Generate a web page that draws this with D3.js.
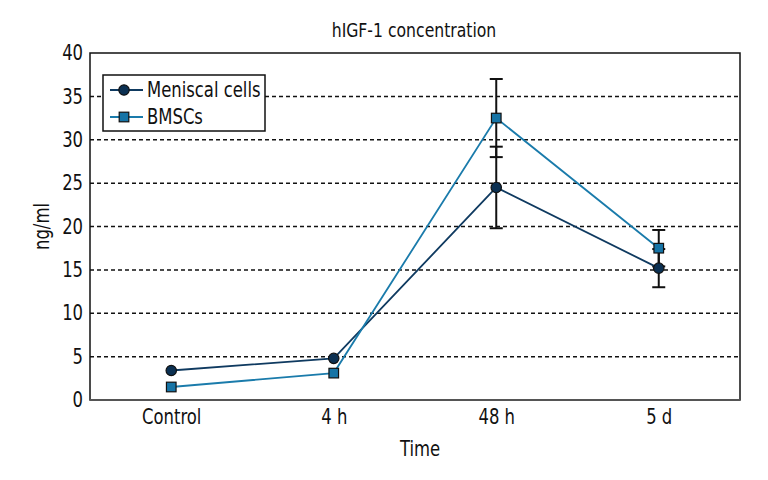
<!DOCTYPE html>
<html>
<head>
<meta charset="utf-8">
<script src="https://cdn.jsdelivr.net/npm/d3@7"></script>
<style>
	body { margin: 0; background: #fff; }
	text { font-family: 'DejaVu Sans', sans-serif; font-stretch: condensed; fill: #111; }
</style>
</head>
<body>
<svg id="svg" width="768" height="480"></svg>
<script>
const categories = ['Control', '4 h', '48 h', '5 d'];
const meniscal = [3.4, 4.8, 24.5, 15.2];
const meniscalErr = [0, 0, 4.7, 2.2];
const bmsc = [1.5, 3.1, 32.5, 17.5];
const bmscErr = [0, 0, 4.5, 2.1];
const yTicks = [0, 5, 10, 15, 20, 25, 30, 35, 40];

// squeeze text a bit more, the original font is narrower than DejaVu Condensed
const squeeze = 'scale(0.87,1)';

function draw() {
	const margin = { top: 53, right: 28, bottom: 80, left: 90 };
	const width = 768 - (margin.left + margin.right);
	const height = 480 - (margin.top + margin.bottom);

	const svg = d3.select('#svg');

	// scales
	const xscale = d3
		.scalePoint()
		.domain(categories)
		.range([margin.left, margin.left + width])
		.padding(0.5);

	const yscale = d3
		.scaleLinear()
		.domain([0, 40])
		.range([margin.top + height, margin.top]);

	// grid lines
	svg
		.append('g')
		.selectAll('line')
		.data(yTicks.filter((d) => d > 0 && d < 40))
		.enter()
		.append('line')
		.attr('x1', margin.left)
		.attr('x2', margin.left + width)
		.attr('y1', (d) => yscale(d))
		.attr('y2', (d) => yscale(d))
		.attr('stroke', '#111')
		.attr('stroke-width', 1.5)
		.attr('stroke-dasharray', '4,3');

	// frame
	svg
		.append('rect')
		.attr('x', margin.left)
		.attr('y', margin.top)
		.attr('width', width)
		.attr('height', height)
		.attr('fill', 'none')
		.attr('stroke', '#111')
		.attr('stroke-width', 1.5);

	svg
		.append('line')
		.attr('x1', margin.left)
		.attr('x2', margin.left + width)
		.attr('y1', margin.top + height)
		.attr('y2', margin.top + height)
		.attr('stroke', '#555')
		.attr('stroke-width', 2);

	// axes, no tick marks
	const leftAxis = d3.axisLeft(yscale).tickValues(yTicks).tickSize(0).tickPadding(8);
	const gy = svg
		.append('g')
		.attr('transform', `translate(${margin.left}, 0)`)
		.call(leftAxis);
	gy.select('.domain').remove();
	gy.attr('font-family', null);
	gy.selectAll('text').attr('font-size', 21).attr('transform', squeeze);

	const bottomAxis = d3.axisBottom(xscale).tickSize(0).tickPadding(9);
	const gx = svg
		.append('g')
		.attr('transform', `translate(0, ${margin.top + height})`)
		.call(bottomAxis);
	gx.select('.domain').remove();
	gx.attr('font-family', null);
	gx.selectAll('text').attr('font-size', 21).attr('transform', squeeze);

	// labels
	svg
		.append('text')
		.attr('transform', `translate(414, 37) ${squeeze}`)
		.attr('text-anchor', 'middle')
		.attr('font-size', 20)
		.text('hIGF-1 concentration');

	svg
		.append('text')
		.attr('transform', `translate(420, 456) ${squeeze}`)
		.attr('text-anchor', 'middle')
		.attr('font-size', 21)
		.text('Time');

	svg
		.append('text')
		.attr('transform', `translate(49, ${yscale(20)}) rotate(-90) ${squeeze}`)
		.attr('text-anchor', 'middle')
		.attr('font-size', 21)
		.text('ng/ml');

	const series = [
		{ name: 'Meniscal cells', values: meniscal, err: meniscalErr, line: '#0f3a60', fill: '#0b3052', shape: 'circle' },
		{ name: 'BMSCs', values: bmsc, err: bmscErr, line: '#1a7bab', fill: '#1674a6', shape: 'square' }
	];

	const line = d3
		.line()
		.x((d, i) => xscale(categories[i]))
		.y((d) => yscale(d));

	// error bars
	series.forEach((s) => {
		const g = svg.append('g');
		const data = s.values.map((v, i) => ({ c: categories[i], v: v, e: s.err[i] })).filter((d) => d.e > 0);
		g.selectAll('line.stem')
			.data(data)
			.enter()
			.append('line')
			.attr('x1', (d) => xscale(d.c))
			.attr('x2', (d) => xscale(d.c))
			.attr('y1', (d) => yscale(d.v - d.e))
			.attr('y2', (d) => yscale(d.v + d.e))
			.attr('stroke', '#111')
			.attr('stroke-width', 2);
		[-1, 1].forEach((sign) => {
			g.selectAll(null)
				.data(data)
				.enter()
				.append('line')
				.attr('x1', (d) => xscale(d.c) - 6.5)
				.attr('x2', (d) => xscale(d.c) + 6.5)
				.attr('y1', (d) => yscale(d.v + sign * d.e))
				.attr('y2', (d) => yscale(d.v + sign * d.e))
				.attr('stroke', '#111')
				.attr('stroke-width', 2);
		});
	});

	// lines and markers
	series.forEach((s) => {
		svg
			.append('path')
			.datum(s.values)
			.attr('d', line)
			.attr('fill', 'none')
			.attr('stroke', s.line)
			.attr('stroke-width', 1.8);
	});

	series.forEach((s) => {
		const g = svg.append('g');
		if (s.shape === 'circle') {
			g.selectAll('circle')
				.data(s.values)
				.enter()
				.append('circle')
				.attr('cx', (d, i) => xscale(categories[i]))
				.attr('cy', (d) => yscale(d))
				.attr('r', 5.2)
				.attr('fill', s.fill)
				.attr('stroke', '#111')
				.attr('stroke-width', 1.2);
		} else {
			g.selectAll('rect')
				.data(s.values)
				.enter()
				.append('rect')
				.attr('x', (d, i) => xscale(categories[i]) - 4.8)
				.attr('y', (d) => yscale(d) - 4.8)
				.attr('width', 9.6)
				.attr('height', 9.6)
				.attr('fill', s.fill)
				.attr('stroke', '#111')
				.attr('stroke-width', 1.2);
		}
	});

	// legend
	const legend = svg.append('g');
	legend
		.append('rect')
		.attr('x', 103)
		.attr('y', 75)
		.attr('width', 162)
		.attr('height', 56)
		.attr('fill', '#fff')
		.attr('stroke', '#111')
		.attr('stroke-width', 1.5);

	series.forEach((s, i) => {
		const y = 90 + i * 27;
		legend
			.append('line')
			.attr('x1', 110)
			.attr('x2', 143)
			.attr('y1', y)
			.attr('y2', y)
			.attr('stroke', s.line)
			.attr('stroke-width', 1.8);
		if (s.shape === 'circle') {
			legend
				.append('circle')
				.attr('cx', 124)
				.attr('cy', y)
				.attr('r', 5.2)
				.attr('fill', s.fill)
				.attr('stroke', '#111')
				.attr('stroke-width', 1.2);
		} else {
			legend
				.append('rect')
				.attr('x', 124 - 4.8)
				.attr('y', y - 4.8)
				.attr('width', 9.6)
				.attr('height', 9.6)
				.attr('fill', s.fill)
				.attr('stroke', '#111')
				.attr('stroke-width', 1.2);
		}
		legend
			.append('text')
			.attr('transform', `translate(147, ${y + 7}) ${squeeze}`)
			.attr('font-size', 21)
			.text(s.name);
	});
}

draw();
</script>
</body>
</html>
